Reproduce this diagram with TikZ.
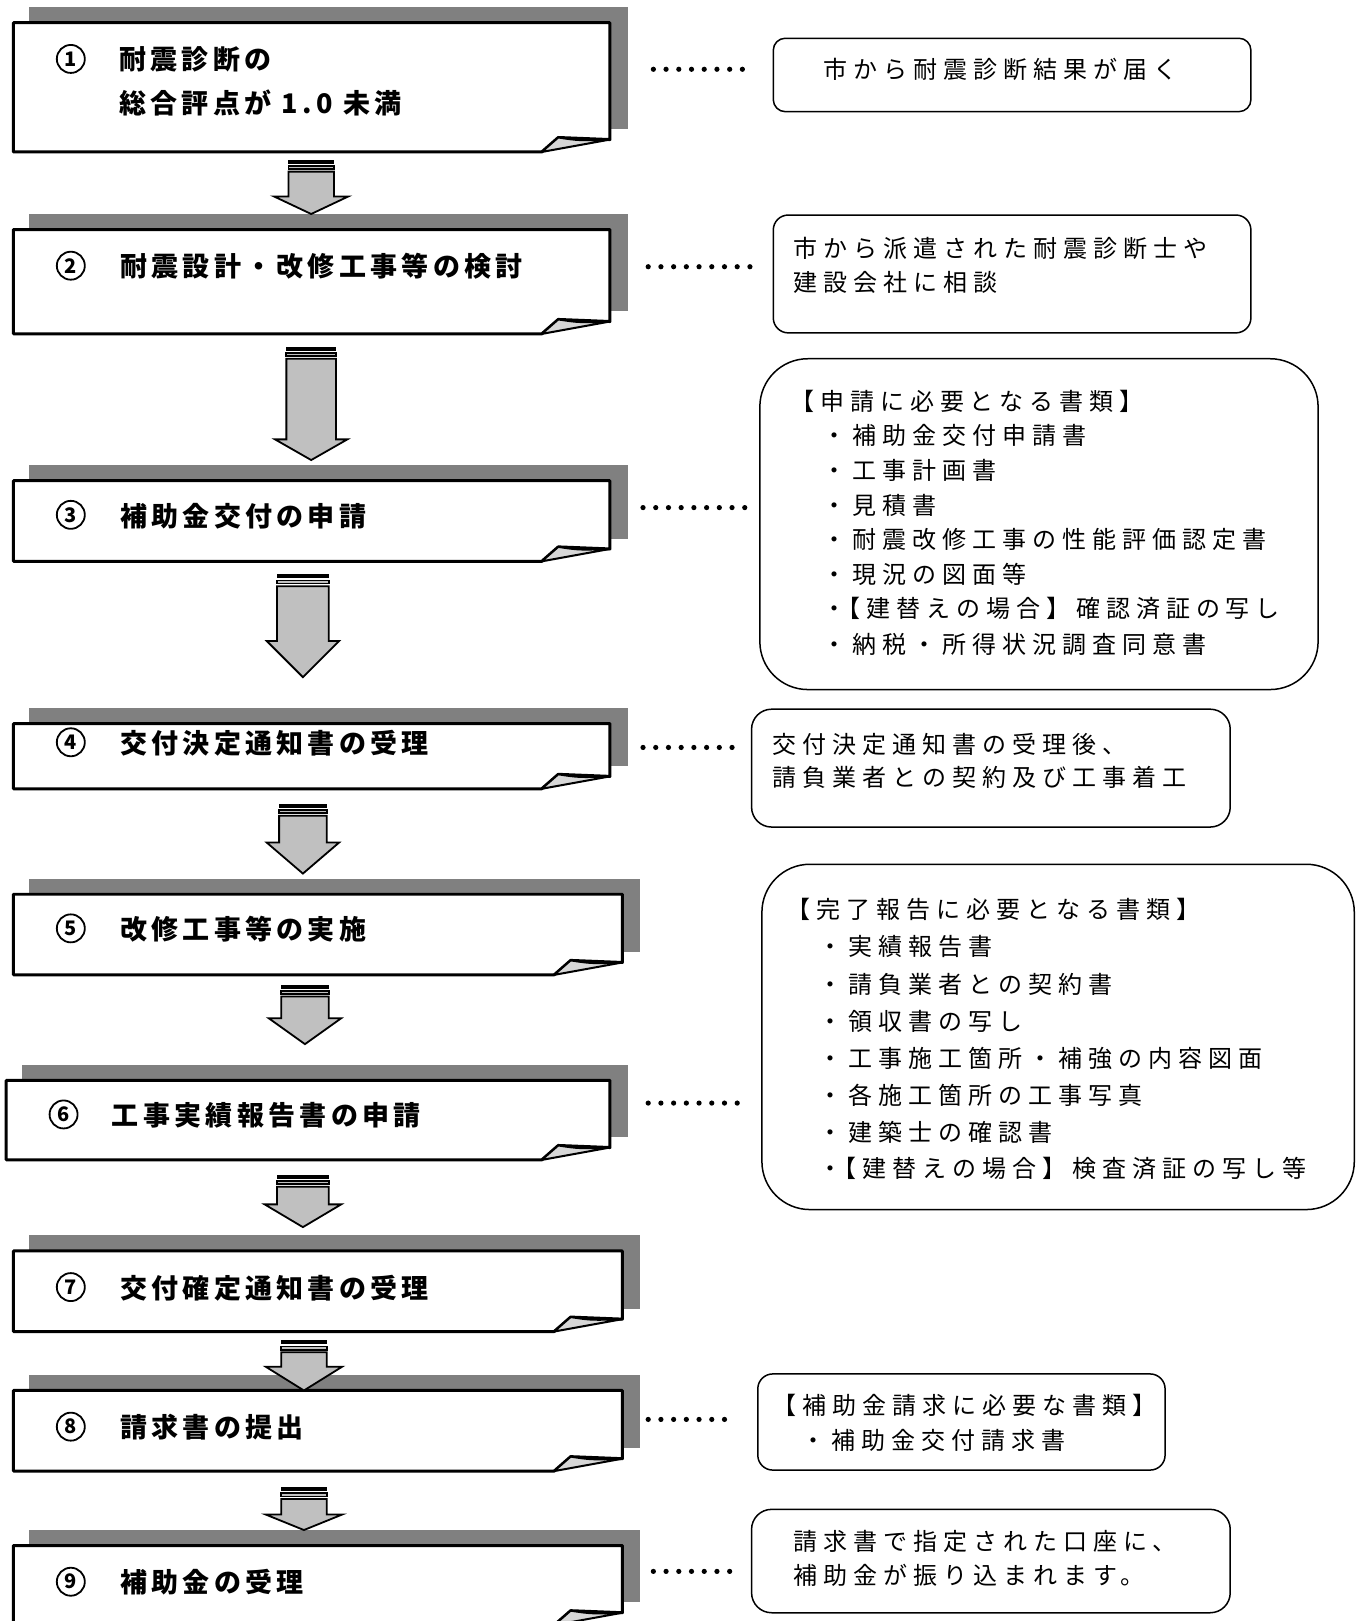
\documentclass[tikz,border=0pt]{standalone}
\usepackage{fontspec}
\usetikzlibrary{fit}
\newfontfamily\jpL[LetterSpace=16]{Noto Sans CJK JP}
\newfontfamily\jpR[LetterSpace=25]{Noto Sans CJK JP}
\newfontfamily\jpN{Noto Sans CJK JP}
\definecolor{shadowc}{RGB}{128,128,128}
\definecolor{arrowc}{RGB}{192,192,192}
\definecolor{foldc}{RGB}{215,215,215}
\tikzset{
  ltext/.style={anchor=base west, inner sep=0pt, font=\jpL\bfseries\fontsize{27}{31}\selectfont},
  rtext/.style={anchor=base west, inner sep=0pt, font=\jpR\fontsize{24}{28}\selectfont},
  numc/.style={circle, draw=black, line width=1.8pt, minimum size=28pt, inner sep=0pt, font=\jpN\bfseries\fontsize{20}{20}\selectfont},
  boxline/.style={fill=white, draw=black, line width=3pt, line join=round},
  foldline/.style={fill=foldc, draw=black, line width=2pt, line join=round},
  arrowst/.style={fill=arrowc, draw=black, line width=1.8pt, line join=miter},
  topbar/.style={fill=black, draw=black, line width=1pt},
  rboxline/.style={draw=black, line width=1.5pt},
  leaderdot/.style={fill=black},
}
% left step box: name, x1, y1, x2, y2
\newcommand\flowbox[5]{%
  \fill[shadowc] (#2+15,#3-15) rectangle (#4+17,#5-22);
  \draw[boxline] (#2,#3) -- (#4,#3) -- (#4,#5-12) -- (#4-50,#5-14) -- (#4-66,#5) -- (#2,#5) -- cycle;
  \draw[foldline] (#4-66,#5) -- (#4-50,#5-14) .. controls (#4-30,#5-11) .. (#4,#5-12) -- cycle;
  \path (#2,#3) coordinate (#1nw) (#4,#5) coordinate (#1se);
  \node[inner sep=0pt, fit=(#1nw)(#1se)] (#1) {};
}
% block arrow: cx, top, headstart, tip, shaft half, head half
\newcommand\blockarrow[6]{%
  \draw[arrowst] (#1-#5,#2+11) -- (#1+#5,#2+11) -- (#1+#5,#3) -- (#1+#6,#3) -- (#1,#4) -- (#1-#6,#3) -- (#1-#5,#3) -- cycle;
  \draw[topbar] (#1-#5,#2) rectangle (#1+#5,#2+3);
  \draw[arrowst] (#1-#5,#2+5.5) rectangle (#1+#5,#2+8.5);
}
% rounded info box: name, x1, y1, x2, y2, radius
\newcommand\infobox[6]{%
  \draw[rboxline, rounded corners=#6pt] (#2,#3) rectangle (#4,#5);
  \path (#2,#3) coordinate (#1nw) (#4,#5) coordinate (#1se);
  \node[inner sep=0pt, fit=(#1nw)(#1se)] (#1) {};
}
% leader dots: y, x start, count
\newcommand\leaderdots[3]{%
  \foreach \k in {1,...,#3} {\fill[leaderdot] (#2+\k*12.3-12.3,#1) circle (2.6pt);}
}
\newcommand\bk{\kern-10pt}
\begin{document}
\begin{tikzpicture}[x=1.034pt, y=-1.034pt]
\useasboundingbox (0,0) rectangle (1319,1568);
\fill[white] (0,0) rectangle (1319,1568);
\begin{scope}
\clip (0,0) rectangle (1319,1568);
% step boxes
\flowbox{b1}{13}{22}{590}{147}
\flowbox{b2}{13}{222}{590}{323}
\flowbox{b3}{13}{465}{590}{543}
\flowbox{b4}{13}{700}{590}{763}
\flowbox{b5}{13}{865}{602}{943}
\flowbox{b6}{6}{1045}{590}{1122}
\flowbox{b7}{13}{1210}{602}{1288}
\flowbox{b8}{13}{1345}{602}{1423}
\flowbox{b9}{13}{1495}{602}{1572}
\end{scope}
% arrows
\blockarrow{301}{155}{190}{207}{22}{36}
\blockarrow{301}{336}{425}{445}{24}{35}
\blockarrow{293}{556}{620}{655}{25}{35}
\blockarrow{293}{778}{815}{845}{23}{35}
\blockarrow{295}{953}{985}{1010}{23}{35}
\blockarrow{293}{1137}{1165}{1187}{25}{37}
\blockarrow{294}{1297}{1322}{1345}{22}{37}
\blockarrow{294}{1439}{1465}{1480}{22}{37}
% step numbers
\node[numc] (n1) at (68.5,57) {1};
\node[numc] (n2) at (68.5,257) {2};
\node[numc] (n3) at (68.5,498) {3};
\node[numc] (n4) at (68.5,718) {4};
\node[numc] (n5) at (68.5,898) {5};
\node[numc] (n6) at (61.5,1078) {6};
\node[numc] (n7) at (68.5,1245) {7};
\node[numc] (n8) at (68.5,1380) {8};
\node[numc] (n9) at (68.5,1530) {9};
% step texts
\node[ltext] (t1a) at (115,66.8) {耐震診断の};
\node[ltext] (t1b) at (115,109.8) {総合評点が 1.0 未満};
\node[ltext] (t2) at (116,267.8) {耐震設計・改修工事等の検討};
\node[ltext] (t3) at (116,508.8) {補助金交付の申請};
\node[ltext] (t4) at (116,728.8) {交付決定通知書の受理};
\node[ltext] (t5) at (116,908.8) {改修工事等の実施};
\node[ltext] (t6) at (108,1088.8) {工事実績報告書の申請};
\node[ltext] (t7) at (116,1255.8) {交付確定通知書の受理};
\node[ltext] (t8) at (116,1390.8) {請求書の提出};
\node[ltext] (t9) at (116,1540.8) {補助金の受理};
% leader dots
\leaderdots{67}{632}{8}
\leaderdots{258}{627}{9}
\leaderdots{491}{622}{9}
\leaderdots{723}{622}{8}
\leaderdots{1067}{627}{8}
\leaderdots{1373}{627}{7}
\leaderdots{1520}{632}{7}
% info boxes
\infobox{r1}{748}{37}{1210}{108}{12}
\infobox{r2}{748}{208}{1210}{322}{15}
\infobox{r3}{735}{347}{1275}{667}{48}
\infobox{r4}{727}{686}{1190}{800}{20}
\infobox{r5}{737}{836}{1310}{1170}{48}
\infobox{r6}{733}{1329}{1127}{1422}{15}
\infobox{r7}{727}{1460}{1190}{1560}{20}
% info texts
\node[rtext] (r1a) at (796,75.7) {市から耐震診断結果が届く};
\node[rtext] (r2a) at (767,248.7) {市から派遣された耐震診断士や};
\node[rtext] (r2b) at (767,281.7) {建設会社に相談};
\node[rtext] (r3h) at (764,396.7) {【申請に必要となる書類】};
\node[rtext] (r3a) at (795,429.7) {・補助金交付申請書};
\node[rtext] (r3b) at (795,463.7) {・工事計画書};
\node[rtext] (r3c) at (795,497.7) {・見積書};
\node[rtext] (r3d) at (795,530.7) {・耐震改修工事の性能評価認定書};
\node[rtext] (r3e) at (795,564.7) {・現況の図面等};
\node[rtext] (r3f) at (795,597.7) {・\bk【建替えの場合】確認済証の写し};
\node[rtext] (r3g) at (795,631.7) {・納税・所得状況調査同意書};
\node[rtext] (r4a) at (747,728.7) {交付決定通知書の受理後、};
\node[rtext] (r4b) at (747,760.7) {請負業者との契約及び工事着工};
\node[rtext] (r5h) at (761,888.7) {【完了報告に必要となる書類】};
\node[rtext] (r5a) at (792,924.7) {・実績報告書};
\node[rtext] (r5b) at (792,960.7) {・請負業者との契約書};
\node[rtext] (r5c) at (792,996.7) {・領収書の写し};
\node[rtext] (r5d) at (792,1032.7) {・工事施工箇所・補強の内容図面};
\node[rtext] (r5e) at (792,1068.7) {・各施工箇所の工事写真};
\node[rtext] (r5f) at (792,1103.7) {・建築士の確認書};
\node[rtext] (r5g) at (792,1138.7) {・\bk【建替えの場合】検査済証の写し等};
\node[rtext] (r6h) at (747,1368.7) {【補助金請求に必要な書類】};
\node[rtext] (r6a) at (775,1401.7) {・補助金交付請求書};
\node[rtext] (r7a) at (767,1499.7) {請求書で指定された口座に、};
\node[rtext] (r7b) at (767,1532.7) {補助金が振り込まれます。};
\end{tikzpicture}
\end{document}
